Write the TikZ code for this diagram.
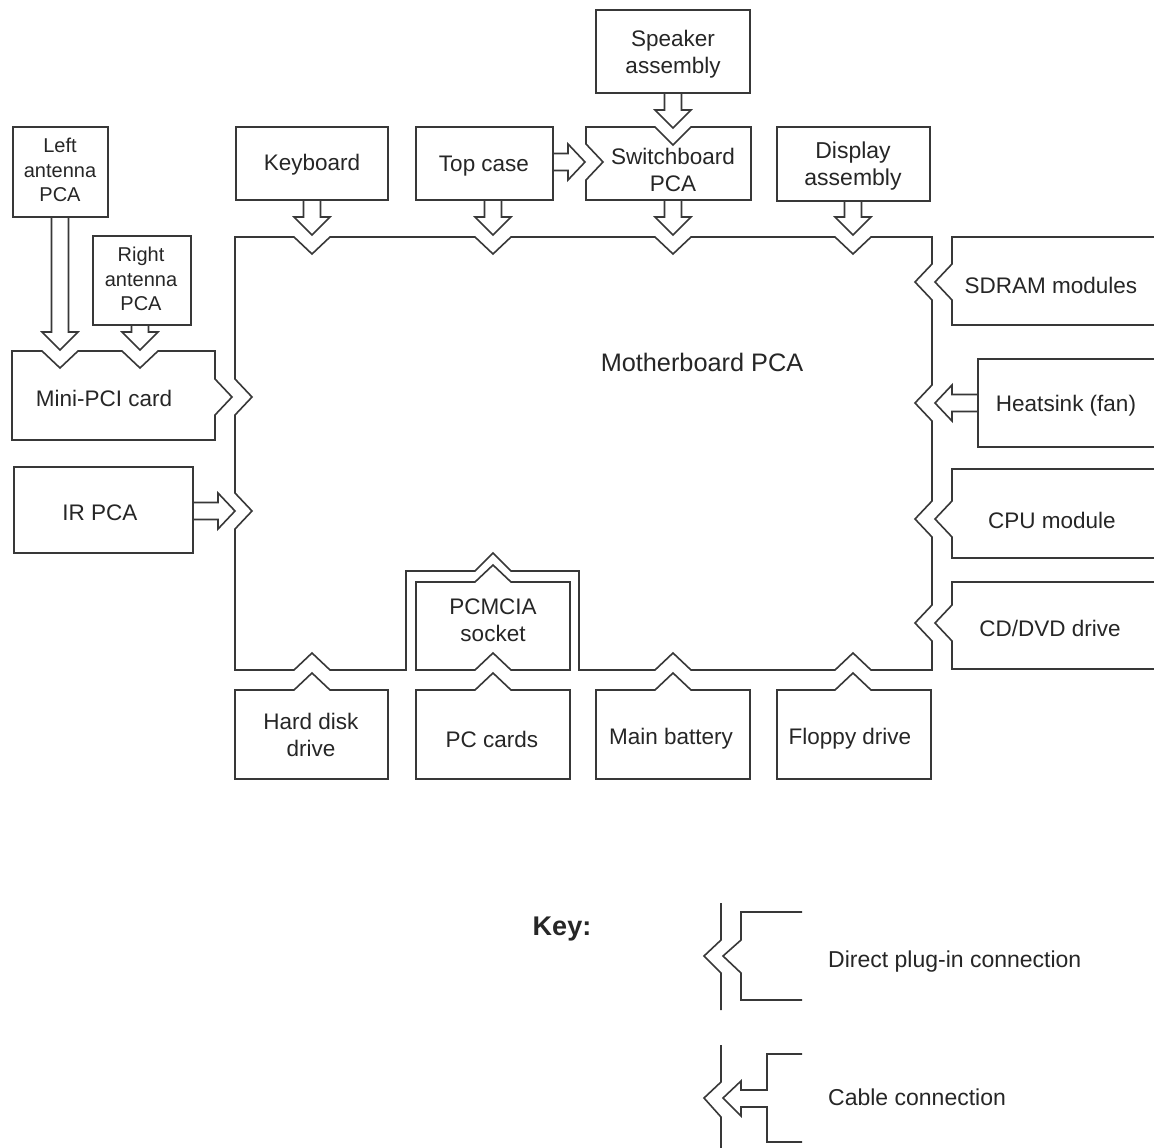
\documentclass[tikz,border=0pt]{standalone}
\usepackage{fontspec}
\setmainfont{Liberation Sans}
\begin{document}
\begin{tikzpicture}[x=1pt,y=-1pt,
  ln/.style={draw=black!78,line width=1.6pt,line join=miter},
  lbl/.style={text=black!85,font=\fontsize{22.5}{27}\selectfont,align=center,inner sep=0pt},
  sml/.style={text=black!85,font=\fontsize{20}{24.5}\selectfont,align=center,inner sep=0pt}]
\useasboundingbox (0,0) rectangle (1154,1148);
\fill[white] (0,0) rectangle (1154,1148);

% Motherboard outline
\draw[ln] (235,237) -- (294,237) -- (312,254) -- (330,237) -- (475,237) -- (493,254) -- (511,237)
 -- (655,237) -- (673,254) -- (691,237) -- (835,237) -- (853,254) -- (871,237) -- (932,237)
 -- (932,264) -- (915,282) -- (932,300) -- (932,385) -- (915,403) -- (932,421)
 -- (932,501) -- (915,519) -- (932,537) -- (932,605) -- (915,623) -- (932,641) -- (932,670)
 -- (871,670) -- (853,653) -- (835,670) -- (691,670) -- (673,653) -- (655,670) -- (579,670)
 -- (579,571) -- (511,571) -- (493,553) -- (475,571) -- (406,571) -- (406,670)
 -- (330,670) -- (312,653) -- (294,670) -- (235,670)
 -- (235,529) -- (252,511) -- (235,493) -- (235,415) -- (252,397) -- (235,379) -- cycle;
\node[lbl,font=\fontsize{25.3}{30}\selectfont] (mb) at (702,362) {Motherboard PCA};

% Top row
\draw[ln] (596,10) rectangle (750,93);
\node[lbl] (spk) at (673,54) {Speaker\\assembly};
\draw[ln] (664.5,93) -- (664.5,110) -- (655,110) -- (673,128) -- (691,110) -- (681.5,110) -- (681.5,93);

\draw[ln] (236,127) rectangle (388,200);
\node[lbl] (kb) at (312,165) {Keyboard};
\draw[ln] (303.5,200) -- (303.5,217) -- (294,217) -- (312,235) -- (330,217) -- (320.5,217) -- (320.5,200);

\draw[ln] (416,127) rectangle (553,200);
\node[lbl] (tc) at (484,166) {Top case};
\draw[ln] (484.5,200) -- (484.5,217) -- (475,217) -- (493,235) -- (511,217) -- (501.5,217) -- (501.5,200);
\draw[ln] (553,153.5) -- (568,153.5) -- (568,144) -- (585,162) -- (568,180) -- (568,170.5) -- (553,170.5);

\draw[ln] (586,127) -- (655,127) -- (673,145) -- (691,127) -- (751,127) -- (751,200) -- (586,200)
 -- (586,180) -- (603,162) -- (586,144) -- cycle;
\node[lbl] (sw) at (673,170) {Switchboard\\PCA};
\draw[ln] (664.5,200) -- (664.5,217) -- (655,217) -- (673,235) -- (691,217) -- (681.5,217) -- (681.5,200);

\draw[ln] (777,127) rectangle (930,201);
\node[lbl,font=\fontsize{23}{27}\selectfont] (disp) at (853,166) {Display\\assembly};
\draw[ln] (844.5,201) -- (844.5,217) -- (835,217) -- (853,235) -- (871,217) -- (861.5,217) -- (861.5,201);

% Left side
\draw[ln] (13,127) rectangle (108,217);
\node[sml] (lant) at (60,170) {Left\\antenna\\PCA};
\draw[ln] (51.5,217) -- (51.5,332) -- (42,332) -- (60,350) -- (78,332) -- (68.5,332) -- (68.5,217);

\draw[ln] (93,236) rectangle (191,325);
\node[sml] (rant) at (141,279) {Right\\antenna\\PCA};
\draw[ln] (131.5,325) -- (131.5,332) -- (122,332) -- (140,350) -- (158,332) -- (148.5,332) -- (148.5,325);

\draw[ln] (12,351) -- (42,351) -- (60,368) -- (78,351) -- (122,351) -- (140,368) -- (158,351) -- (215,351)
 -- (215,379) -- (232,397) -- (215,415) -- (215,440) -- (12,440) -- cycle;
\node[lbl] (mpci) at (104,398) {Mini-PCI card};

\draw[ln] (14,467) rectangle (193,553);
\node[lbl] (ir) at (100,513) {IR PCA};
\draw[ln] (193,502.5) -- (218,502.5) -- (218,493) -- (235,511) -- (218,529) -- (218,519.5) -- (193,519.5);

% Right side
\draw[ln] (1160,237) -- (952,237) -- (952,264) -- (935,282) -- (952,300) -- (952,325) -- (1160,325);
\node[lbl] (sdram) at (1051,285) {SDRAM modules};
\draw[ln] (1160,359) -- (978,359) -- (978,447) -- (1160,447);
\draw[ln] (978,394.5) -- (952,394.5) -- (952,385) -- (935,403) -- (952,421) -- (952,411.5) -- (978,411.5);
\node[lbl] (heat) at (1066,406) {Heatsink (fan)};
\draw[ln] (1160,469) -- (952,469) -- (952,501) -- (935,519) -- (952,537) -- (952,558) -- (1160,558);
\node[lbl] (cpu) at (1052,520) {CPU module};
\draw[ln] (1160,582) -- (952,582) -- (952,605) -- (935,623) -- (952,641) -- (952,669) -- (1160,669);
\node[lbl] (cd) at (1050,628) {CD/DVD drive};

% PCMCIA
\draw[ln] (416,582) -- (475,582) -- (493,565) -- (511,582) -- (570,582) -- (570,670) -- (511,670)
 -- (493,653) -- (475,670) -- (416,670) -- cycle;
\node[lbl] (pcm) at (493,620) {PCMCIA\\socket};

% Bottom row
\draw[ln] (235,779) -- (235,690) -- (294,690) -- (312,673) -- (330,690) -- (388,690) -- (388,779) -- cycle;
\node[lbl] (hdd) at (311,735) {Hard disk\\drive};
\draw[ln] (416,779) -- (416,690) -- (475,690) -- (493,673) -- (511,690) -- (570,690) -- (570,779) -- cycle;
\node[lbl] (pcc) at (492,739) {PC cards};
\draw[ln] (596,779) -- (596,690) -- (655,690) -- (673,673) -- (691,690) -- (750,690) -- (750,779) -- cycle;
\node[lbl] (bat) at (671,739) {Main battery};
\draw[ln] (777,779) -- (777,690) -- (835,690) -- (853,673) -- (871,690) -- (931,690) -- (931,779) -- cycle;
\node[lbl] (fdd) at (850,739) {Floppy drive};

% Key
\node[lbl,font=\fontsize{27}{31}\selectfont\bfseries] (key) at (562,929) {Key:};
\draw[ln] (721,903) -- (721,940) -- (704,956) -- (721,973) -- (721,1010);
\draw[ln] (802,912) -- (741,912) -- (741,940) -- (723,956) -- (741,973) -- (741,1000) -- (802,1000);
\node[lbl,anchor=west,font=\fontsize{23}{27}\selectfont] (kd) at (828,962) {Direct plug-in connection};
\draw[ln] (721,1045) -- (721,1082) -- (704,1098) -- (721,1117) -- (721,1148);
\draw[ln] (802,1054) -- (767,1054) -- (767,1090) -- (741,1090) -- (741,1081) -- (723,1098) -- (741,1116)
 -- (741,1107) -- (767,1107) -- (767,1142) -- (802,1142);
\node[lbl,anchor=west,font=\fontsize{23}{27}\selectfont] (kc) at (828,1097) {Cable connection};
\end{tikzpicture}
\end{document}
